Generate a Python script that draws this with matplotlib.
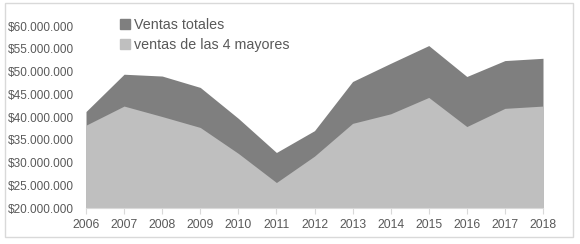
import matplotlib.pyplot as plt
from matplotlib.patches import Patch, Rectangle
from matplotlib.ticker import FuncFormatter

plt.rcParams['font.family'] = ['Liberation Sans', 'DejaVu Sans']

# data
years = [2006, 2007, 2008, 2009, 2010, 2011, 2012, 2013, 2014, 2015, 2016, 2017, 2018]
ventas_totales = [41.2, 49.4, 49.0, 46.5, 39.7, 32.2, 37.0, 47.8, 51.8, 55.7, 48.9, 52.4, 52.9]
ventas_4_mayores = [38.2, 42.4, 40.1, 37.7, 32.0, 25.6, 31.4, 38.6, 40.7, 44.3, 37.9, 41.9, 42.4]
y_ticks = [20, 25, 30, 35, 40, 45, 50, 55, 60]

dark = '#7f7f7f'
light = '#bfbfbf'
txt = '#595959'

fig = plt.figure(figsize=(5.8, 2.44), dpi=100)
ax = fig.add_axes([86/580, 36/244, 457/580, 182/244])

tot = [v * 1e6 for v in ventas_totales]
may = [v * 1e6 for v in ventas_4_mayores]
ax.fill_between(years, 20e6, tot, color=dark, lw=0)
ax.fill_between(years, 20e6, may, color=light, lw=0)

ax.set_xlim(years[0], years[-1])
ax.set_ylim(20e6, 60e6)
ax.set_xticks(years)
ax.set_yticks([t * 1e6 for t in y_ticks])
ax.yaxis.set_major_formatter(FuncFormatter(lambda v, p: '$' + f'{int(v):,}'.replace(',', '.')))

for s in ['top', 'right', 'left']:
    ax.spines[s].set_visible(False)
ax.spines['bottom'].set_color('#d9d9d9')
ax.tick_params(axis='y', length=0, labelsize=8.5, labelcolor=txt, pad=9)
ax.tick_params(axis='x', length=4, color='#d9d9d9', labelsize=8.7, labelcolor=txt, pad=4)

handles = [Patch(color=dark, label='Ventas totales'),
           Patch(color=light, label='ventas de las 4 mayores')]
leg = fig.legend(handles=handles, loc='upper left', bbox_to_anchor=(113/580, 1 - 11/244),
                 frameon=False, fontsize=10.3, handlelength=0.7, handleheight=0.7,
                 handletextpad=0.25, labelspacing=0.4, borderpad=0)
for t in leg.get_texts():
    t.set_color(txt)

fig.patches.append(Rectangle((5/580, 7/244), 568/580, 234/244, transform=fig.transFigure,
                             fill=False, ec='#d9d9d9', lw=1))

fig.savefig('out.png', dpi=100)
